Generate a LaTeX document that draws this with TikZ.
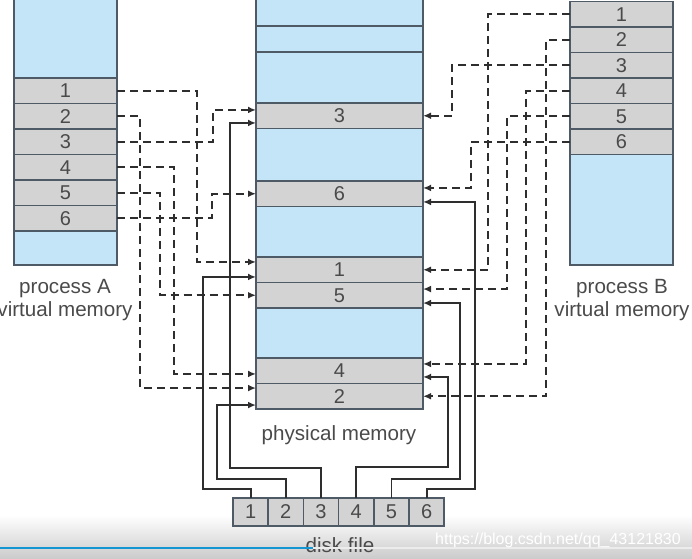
\documentclass[tikz,border=0pt]{standalone}
\usepackage{fontspec}
\setmainfont{Liberation Sans}
\usetikzlibrary{arrows.meta,positioning}
\definecolor{memblue}{HTML}{C4E5F7}
\definecolor{memgray}{HTML}{D3D3D3}
\definecolor{memline}{HTML}{4E5A66}
\definecolor{txtgray}{HTML}{4A4A4A}
\definecolor{wire}{HTML}{2E2E2E}
\definecolor{barblue}{HTML}{1496D2}

\begin{document}
\begin{tikzpicture}[
	x = 0.5pt, y = -0.5pt, % one unit = one pixel of the screenshot
	> = {Latex[length=4pt,width=3.4pt]}, % arrow head style
	font = \fontsize{10}{11.5}\selectfont,
	cell/.style={rectangle, draw=memline, fill=memgray, line width=0.8pt, inner sep=0pt, outer sep=0pt, minimum height=12.75pt, text=txtgray},
	blank/.style={cell, fill=memblue},
	vcell/.style={cell, minimum width=51.5pt},   % process pages
	vblank/.style={blank, minimum width=51.5pt},
	pcell/.style={cell, minimum width=83.5pt},   % physical frames
	pblank/.style={blank, minimum width=83.5pt},
	dcell/.style={cell, minimum width=17.6pt, minimum height=14pt}, % disk blocks
	caption/.style={align=center, text=txtgray, inner sep=0pt, font=\fontsize{10.3}{11.5}\selectfont},
	dashmap/.style={->, draw=wire, line width=0.9pt, dash pattern=on 4pt off 2.5pt},
	diskload/.style={->, draw=wire, line width=0.9pt},
	]
	\useasboundingbox (0,0) rectangle (692,558);
	\shade[top color=white, bottom color=gray!40] (0,515) rectangle (692,558);

	% Process A
	% Nodes and their relative positions
	\node[vblank, minimum height=40pt] (atop) at (65.5,38) {};
	\node[vcell] (a1) [below = 0pt of atop] {1};
	\node[vcell] (a2) [below = 0pt of a1] {2};
	\node[vcell] (a3) [below = 0pt of a2] {3};
	\node[vcell] (a4) [below = 0pt of a3] {4};
	\node[vcell] (a5) [below = 0pt of a4] {5};
	\node[vcell] (a6) [below = 0pt of a5] {6};
	\node[vblank, minimum height=17pt] (abot) [below = 0pt of a6] {};
	\node[caption] (alab) at (65,300) {process A\\virtual memory};

	% Process B
	\node[vcell] (b1) at (621.5,14.25) {1};
	\node[vcell] (b2) [below = 0pt of b1] {2};
	\node[vcell] (b3) [below = 0pt of b2] {3};
	\node[vcell] (b4) [below = 0pt of b3] {4};
	\node[vcell] (b5) [below = 0pt of b4] {5};
	\node[vcell] (b6) [below = 0pt of b5] {6};
	\node[vblank, minimum height=55.25pt] (bbot) [below = 0pt of b6] {};
	\node[caption] (blab) at (622,300) {process B\\virtual memory};

	% Physical memory
	\node[pblank, minimum height=14pt] (m1) at (339.5,12) {};
	\node[pblank, minimum height=13pt] (m2) [below = 0pt of m1] {};
	\node[pblank, minimum height=25.5pt] (m3) [below = 0pt of m2] {};
	\node[pcell] (p3) [below = 0pt of m3] {3};
	\node[pblank, minimum height=26.25pt] (m4) [below = 0pt of p3] {};
	\node[pcell] (p6) [below = 0pt of m4] {6};
	\node[pblank, minimum height=25.25pt] (m5) [below = 0pt of p6] {};
	\node[pcell] (p1) [below = 0pt of m5] {1};
	\node[pcell] (p5) [below = 0pt of p1] {5};
	\node[pblank, minimum height=25pt] (m6) [below = 0pt of p5] {};
	\node[pcell] (p4) [below = 0pt of m6] {4};
	\node[pcell] (p2) [below = 0pt of p4] {2};
	\node[caption] (plab) at (339,435) {physical memory};

	% Disk file
	\node[dcell] (d1) at (250.6,512) {1};
	\node[dcell] (d2) [right = 0pt of d1] {2};
	\node[dcell] (d3) [right = 0pt of d2] {3};
	\node[dcell] (d4) [right = 0pt of d3] {4};
	\node[dcell] (d5) [right = 0pt of d4] {5};
	\node[dcell] (d6) [right = 0pt of d5] {6};
	\node[caption] (dlab) at (340,545) {disk file};

	% Paths connecting nodes
	% process A pages to frames
	\draw[dashmap] (a1.east) -- ++(80,0) |- ([yshift=3.9pt]p1.west);
	\draw[dashmap] (a2.east) -- ++(23,0) |- ([yshift=4.1pt]p2.west);
	\draw[dashmap] (a3.east) -- ++(96,0) |- ([yshift=2.9pt]p3.west);
	\draw[dashmap] (a4.east) -- ++(57,0) |- ([yshift=-1.6pt]p4.west);
	\draw[dashmap] (a5.east) -- ++(43,0) |- (p5.west);
	\draw[dashmap] (a6.east) -- ++(95,0) |- (p6.west);

	% process B pages to frames
	\draw[dashmap] (b1.west) -- ++(-82,0) |- (p1.east);
	\draw[dashmap] (b2.west) -- ++(-24,0) |- (p2.east);
	\draw[dashmap] (b3.west) -- ++(-118,0) |- (p3.east);
	\draw[dashmap] (b4.west) -- ++(-44,0) |- ([yshift=3.4pt]p4.east);
	\draw[dashmap] (b5.west) -- ++(-63,0) |- ([yshift=3.1pt]p5.east);
	\draw[dashmap] (b6.west) -- ++(-99,0) |- ([yshift=2.9pt]p6.east);

	% disk blocks to frames
	\draw[diskload] (d1.north) |- (203,489) |- ([yshift=-3.6pt]p1.west);
	\draw[diskload] (d2.north) |- (217,479) |- ([yshift=-4.4pt]p2.west);
	\draw[diskload] (d3.north) |- (230,468) |- ([yshift=-3.6pt]p3.west);
	\draw[diskload] (d4.north) |- (448,467) |- ([yshift=-3.1pt]p4.east);
	\draw[diskload] (d5.north) |- (460,479) |- ([yshift=-3.9pt]p5.east);
	\draw[diskload] (d6.north) |- (475,489) |- ([yshift=-4.1pt]p6.east);

	% video overlay
	\draw[line width=1.1pt, barblue] (0,548) -- (313,548);
	\draw[line width=1.1pt, white!85!gray] (313,548) -- (692,548);
	\node[text=white, font=\fontsize{8}{9}\selectfont] (wmark) at (558,540) {https://blog.csdn.net/qq\_43121830};
\end{tikzpicture}
\end{document}
